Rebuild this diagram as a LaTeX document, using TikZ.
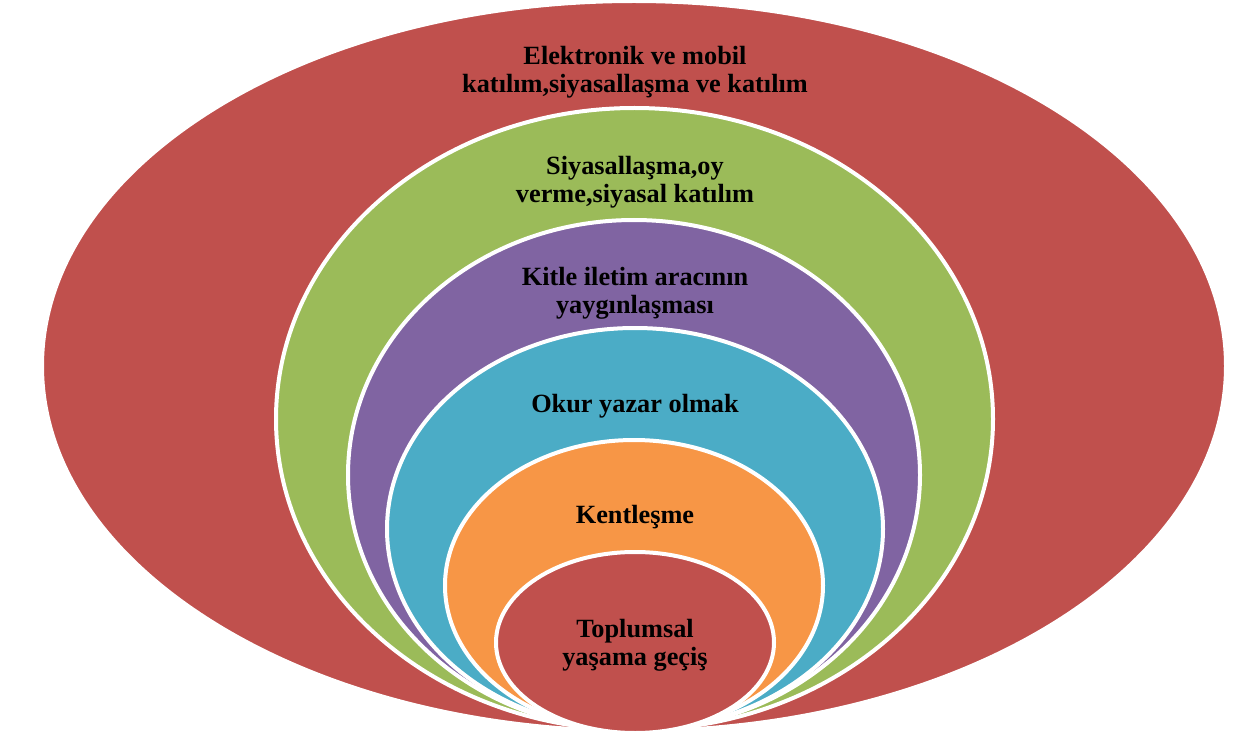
\documentclass[tikz,border=0pt]{standalone}
\usepackage{fontspec}
\setmainfont{Liberation Serif}
\definecolor{cred}{HTML}{C0504D}
\definecolor{cgreen}{HTML}{9BBB59}
\definecolor{cpurple}{HTML}{8064A2}
\definecolor{cblue}{HTML}{4BACC6}
\definecolor{corange}{HTML}{F79646}
\tikzset{
  ring/.style={draw=white, line width=4pt},
  lbl/.style={align=center, anchor=base, font=\fontsize{26.3pt}{28pt}\selectfont\bfseries, text=black, inner sep=0pt}
}
\begin{document}
\begin{tikzpicture}[x=1pt,y=-1pt]
\useasboundingbox (0,0) rectangle (1251,738);
\filldraw[ring, fill=cred] (634,366) ellipse [x radius=592pt, y radius=365pt];
\filldraw[ring, fill=cgreen] (634.5,419) ellipse [x radius=358.5pt, y radius=311pt];
\filldraw[ring, fill=cpurple] (634,475) ellipse [x radius=286pt, y radius=255pt];
\filldraw[ring, fill=cblue] (635,529) ellipse [x radius=248pt, y radius=201pt];
\filldraw[ring, fill=corange] (634,585.5) ellipse [x radius=189pt, y radius=145.5pt];
\filldraw[ring, fill=cred] (635,642.5) ellipse [x radius=139pt, y radius=90.5pt];
\node[lbl] (t1) at (635,93) {Elektronik ve mobil\\katılım,siyasallaşma ve katılım};
\node[lbl] (t2) at (635,203) {Siyasallaşma,oy\\verme,siyasal katılım};
\node[lbl] (t3) at (635,313) {Kitle iletim aracının\\yaygınlaşması};
\node[lbl] (t4) at (635,412) {Okur yazar olmak};
\node[lbl] (t5) at (635,523) {Kentleşme};
\node[lbl] (t6) at (635,665) {Toplumsal\\yaşama geçiş};
\end{tikzpicture}
\end{document}
